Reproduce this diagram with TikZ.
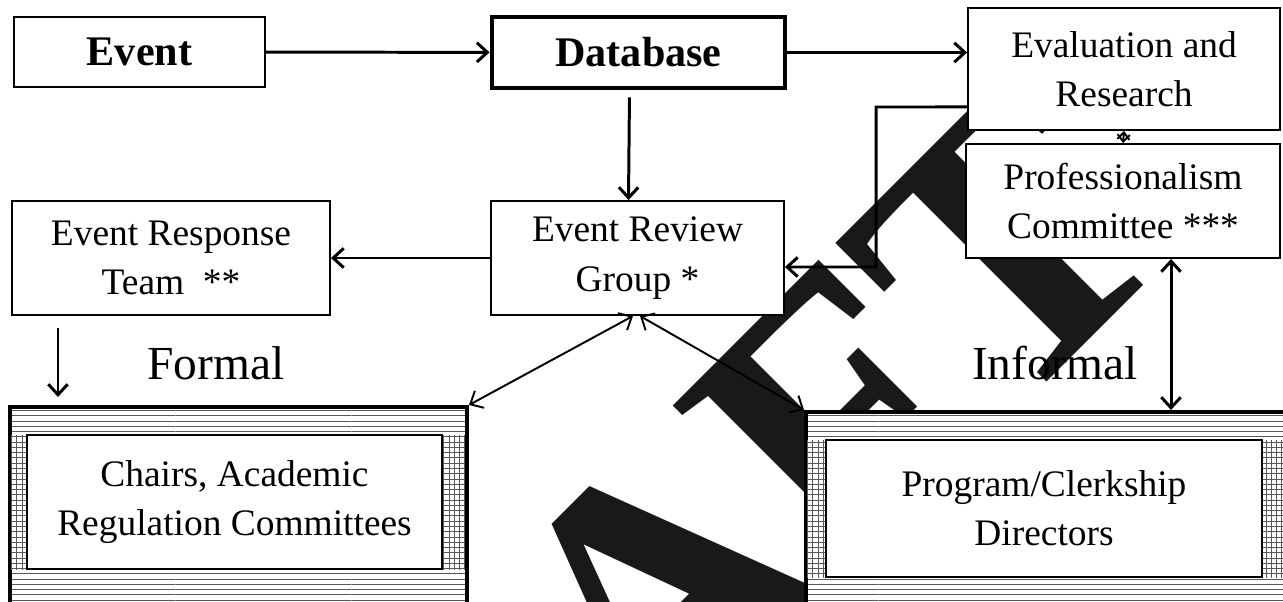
\documentclass[tikz,border=0pt]{standalone}
\usepackage{fontspec}
\setmainfont{Liberation Serif}
\usepackage{tikz}
\usetikzlibrary{arrows.meta,positioning,patterns}

\begin{document}
\begin{tikzpicture}[
  x=0.02cm, y=-0.02cm,
  box/.style={draw, fill=white, line width=1.1pt, align=center, inner sep=0pt,
              font=\fontsize{21.3}{28}\selectfont},
  head/.style={box, font=\fontsize{24}{28}\selectfont\bfseries},
  frame/.style={draw, line width=2.3pt, inner sep=0pt, preaction={fill=white},
                pattern=horizontal lines, pattern color=black!65},
  lbl/.style={font=\fontsize{27}{30}\selectfont, anchor=base, inner sep=0pt},
  wm/.style={font=\fontsize{215}{215}\selectfont\bfseries, text=black!90,
             rotate=45, anchor=base east, inner sep=0pt},
  arr/.style={-{Straight Barb[length=6pt, width=11pt]}, line width=1.7pt},
  darr/.style={{Straight Barb[length=6pt, width=11pt]}-{Straight Barb[length=6pt, width=11pt]},
               line width=1.7pt},
  thin/.style={line width=1.1pt}
]
\useasboundingbox (0,0) rectangle (1283,601);
\node[wm] (draft) at (1185,244) {DRAFT};

\node[head, minimum width=5.02cm, minimum height=1.4cm] (event) at (139.5,52) {Event};
\node[head, line width=2.8pt, minimum width=5.86cm, minimum height=1.42cm] (db) at (638.5,52.5) {Database};
\node[box, minimum width=6.24cm, minimum height=2.44cm] (eval) at (1124,69) {Evaluation and\\Research};
\node[box, minimum width=6.28cm, minimum height=2.28cm] (prof) at (1123,201) {Professionalism\\Committee ***};
\node[box, minimum width=6.36cm, minimum height=2.28cm] (ert) at (171,258) {Event Response\\Team\ \ **};
\node[box, minimum width=5.86cm, minimum height=2.28cm] (erg) at (637.5,258) {Event Review\\Group *};

\node[frame, minimum width=9.14cm, minimum height=4.06cm] (chairsfr) at (238.5,508.5) {};
\fill[pattern=vertical lines, pattern color=black!65] (chairsfr.north west |- 435,435) rectangle (27,569);
\fill[pattern=vertical lines, pattern color=black!65] (442,435) rectangle (chairsfr.east |- 569,569);
\node[box, minimum width=8.3cm, minimum height=2.68cm] (chairs) at (234.5,502) {Chairs, Academic\\Regulation Committees};
\node[frame, minimum width=9.68cm, minimum height=3.96cm] (progfr) at (1048,511) {};
\fill[pattern=vertical lines, pattern color=black!65] (progfr.west |- 440,440) rectangle (826,577);
\fill[pattern=vertical lines, pattern color=black!65] (1262,440) rectangle (progfr.east |- 577,577);
\node[box, minimum width=8.72cm, minimum height=2.74cm] (prog) at (1044,508.5) {Program/Clerkship\\Directors};

\node[lbl] (formal) at (216,379) {Formal};
\node[lbl] (informal) at (1055,379) {Informal};

\coordinate (bend) at (876,107);
\coordinate (dtop) at (58,328);
\coordinate (dbot) at (58,397);

\draw[arr] (event) -- (db);
\draw[arr] (db.east) -- (db.east -| eval.west);
\draw[arr, shorten <=0.14cm] ([xshift=-0.18cm]db.south) -- ([xshift=-0.18cm]erg.north);
\draw[arr] (erg) -- (ert);
\draw[arr] ([yshift=-0.76cm]eval.west) -- (bend) |- ([yshift=-0.18cm]erg.east);
\draw[{Straight Barb[length=4pt, width=7pt]}-{Straight Barb[length=4pt, width=7pt]}, thin] (eval.south) -- (prof.north);
\draw[darr] ([xshift=0.96cm]prof.south) -- ([xshift=0.96cm]prof.south |- progfr.north);
\draw[darr, thin] ([xshift=-0.09cm]erg.south) -- (chairsfr.north east);
\draw[darr, thin] ([xshift=0.05cm]erg.south) -- (progfr.north west);
\draw[arr] (dtop) -- (dbot);
\end{tikzpicture}
\end{document}
